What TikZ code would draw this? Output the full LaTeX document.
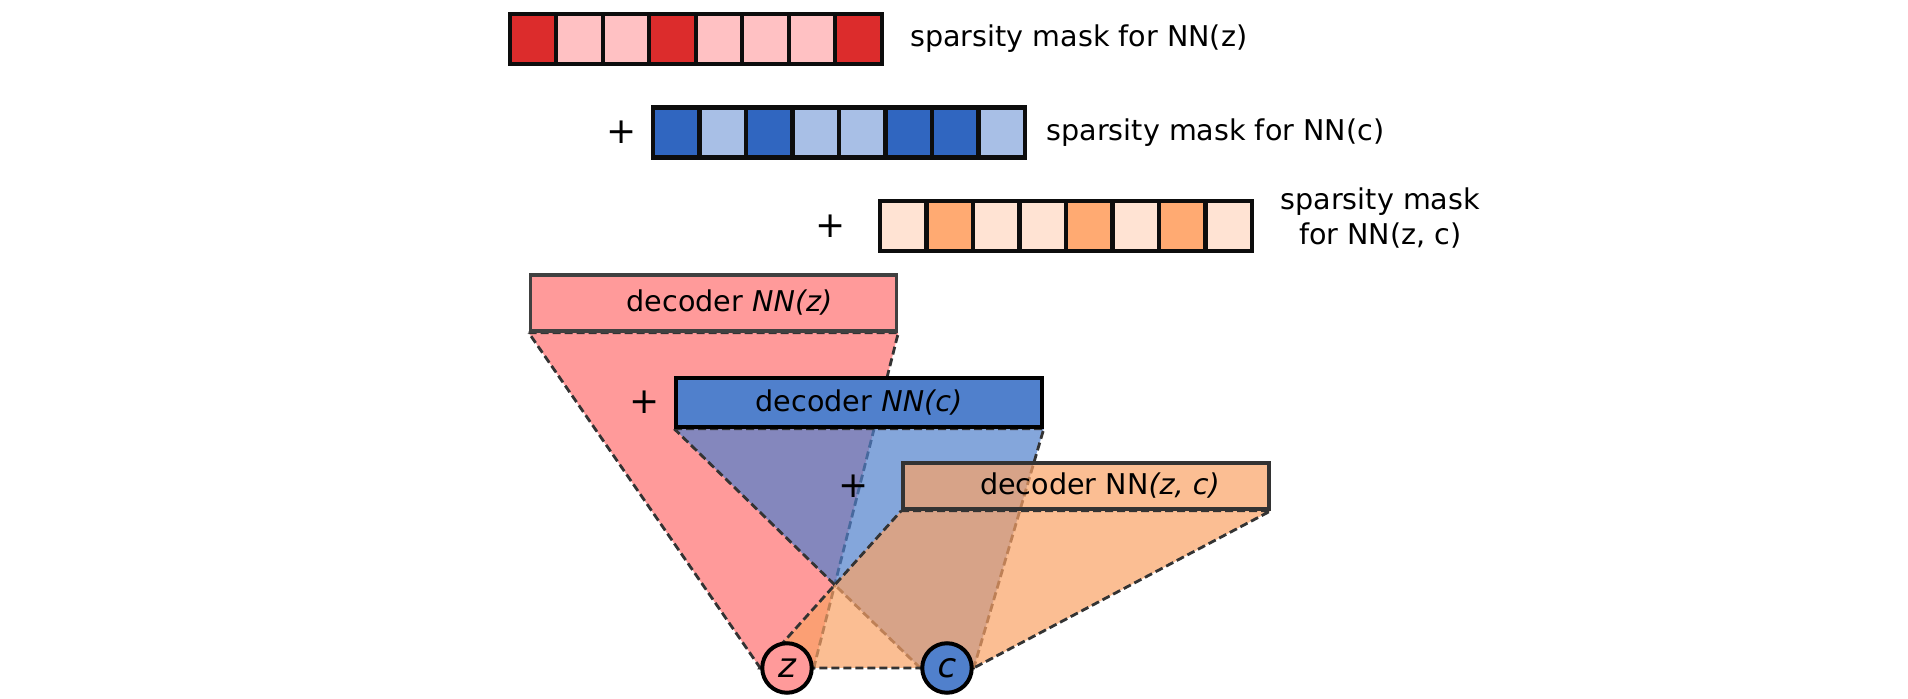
\documentclass[tikz,border=0pt]{standalone}
\usepackage{fontspec}
\setmainfont{DejaVu Sans}
\usetikzlibrary{positioning}
\definecolor{mzdark}{HTML}{DC2C2C}
\definecolor{mzlight}{HTML}{FFC1C3}
\definecolor{mcdark}{HTML}{3066C0}
\definecolor{mclight}{HTML}{A8BFE6}
\definecolor{modark}{HTML}{FFAA72}
\definecolor{molight}{HTML}{FFE3D3}
\definecolor{zfill}{HTML}{FF9A9A}
\definecolor{cfill}{HTML}{5080CC}
\definecolor{ofill}{HTML}{FAA265}
\pgfdeclarelayer{back}
\pgfsetlayers{back,main}

\begin{document}
\begin{tikzpicture}[x=0.5pt, y=-0.5pt, font=\fontsize{14.3}{17.5}\selectfont,
  cell/.style = {draw=black!95, line width=2.2pt, minimum width=23.25pt, minimum height=25pt, inner sep=0pt},
  lbl/.style = {inner sep=0pt, align=center},
  plus/.style = {inner sep=0pt, font=\fontsize{18}{18}\selectfont},
  dec/.style = {draw, line width=1.8pt, minimum width=183pt, inner sep=0pt},
  var/.style = {draw, circle, line width=2pt, minimum size=24.75pt, inner sep=0pt, font=\fontsize{17}{17}\selectfont\itshape},
  cone/.style = {draw=black!80, line width=1.4pt, dash pattern=on 4pt off 2pt}]
\useasboundingbox (0,0) rectangle (1908,699);

% sparsity masks
\foreach \col [count=\i] in {mzdark,mzlight,mzlight,mzdark,mzlight,mzlight,mzlight,mzdark}
  \node[cell, fill=\col] (mz\i) at ({533+46.5*(\i-1)},39) {};
\foreach \col [count=\i] in {mcdark,mclight,mcdark,mclight,mclight,mcdark,mcdark,mclight}
  \node[cell, fill=\col] (mc\i) at ({676.25+46.5*(\i-1)},132.5) {};
\foreach \col [count=\i] in {molight,modark,molight,molight,modark,molight,modark,molight}
  \node[cell, fill=\col] (mo\i) at ({903.25+46.5*(\i-1)},226) {};
\node[lbl, right=13pt of mz8] (lz) {sparsity mask for NN(z)};
\node[lbl, right=9.5pt of mc8] (lc) {sparsity mask for NN(c)};
\node[lbl, right=13pt of mo8, yshift=4pt] (lzc) {sparsity mask\\for NN(z, c)};
\node[plus, left=7pt of mc1] (p1) {+};
\node[plus, left=16pt of mo1] (p2) {+};

% decoders
\node[dec, fill=zfill, draw=black!75, minimum height=28pt] (bz) at (713.5,303) {\hspace*{16pt}decoder \textit{NN(z)}};
\node[dec, fill=cfill, draw=black, minimum height=24.5pt] (bc) at (859,402.5) {decoder \textit{NN(c)}};
\node[dec, fill=ofill, fill opacity=0.7, text opacity=1, draw=black!80, minimum height=23pt] (bzc) at (1086,486) {\hspace*{14pt}decoder NN\textit{(z, c)}};
\node[plus, left=7pt of bc] (p3) {+};
\node[plus, left=16pt of bzc] (p4) {+};

% latents
\node[var, fill=zfill] (z) at (787,668) {z};
\node[var, fill=cfill] (c) at (947,668) {c};

\begin{pgfonlayer}{back}
\path[cone, fill=zfill] (bz.south west) -- (bz.south east) -- (z.east) -- (z.west) -- cycle;
\path[cone, fill=cfill, fill opacity=0.7] (bc.south west) -- (bc.south east) -- (c.east) -- (c.west) -- cycle;
\path[cone, fill=ofill, fill opacity=0.7] (bzc.south west) -- (bzc.south east) -- (c.east) -- (z.west) -- cycle;
\end{pgfonlayer}
\end{tikzpicture}
\end{document}
